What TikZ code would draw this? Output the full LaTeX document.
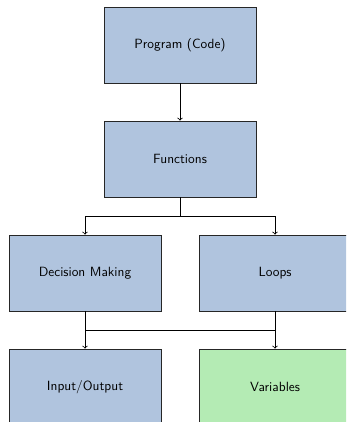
\documentclass[tikz,border=0pt]{standalone}
\usetikzlibrary{positioning}
\definecolor{boxblue}{RGB}{176,196,222}
\definecolor{boxgreen}{RGB}{180,235,180}
\begin{document}
\begin{tikzpicture}[
  box/.style={draw=black!85, semithick, fill=boxblue, minimum width=4cm, minimum height=2cm, inner sep=0pt, font=\sffamily},
  greenbox/.style={box, fill=boxgreen},
  conn/.style={draw=black, semithick},
  arr/.style={conn, ->}
]
\useasboundingbox (-4.737,1.184) rectangle (4.368,-9.92);
\begin{scope}
\clip (-4.737,1.184) rectangle (4.368,-9.92);
\node[box] (prog) at (0,0) {Program (Code)};
\node[box] (func) at (0,-3) {Functions};
\node[box] (dec) at (-2.5,-6) {Decision Making};
\node[box] (loop) at (2.5,-6) {Loops};
\node[box] (io) at (-2.5,-9) {Input/Output};
\node[greenbox] (var) at (2.5,-9) {Variables};
\coordinate (fsplit) at (0,-4.5);
\coordinate (fl) at (-2.5,-4.5);
\coordinate (fr) at (2.5,-4.5);
\coordinate (bl) at (-2.5,-7.5);
\coordinate (br) at (2.5,-7.5);
\draw[arr] (prog) -- (func);
\draw[conn] (func) -- (fsplit);
\draw[conn] (fl) -- (fr);
\draw[arr] (fl) -- (dec);
\draw[arr] (fr) -- (loop);
\draw[conn] (dec) -- (bl);
\draw[conn] (loop) -- (br);
\draw[conn] (bl) -- (br);
\draw[arr] (bl) -- (io);
\draw[arr] (br) -- (var);
\end{scope}
\end{tikzpicture}
\end{document}
